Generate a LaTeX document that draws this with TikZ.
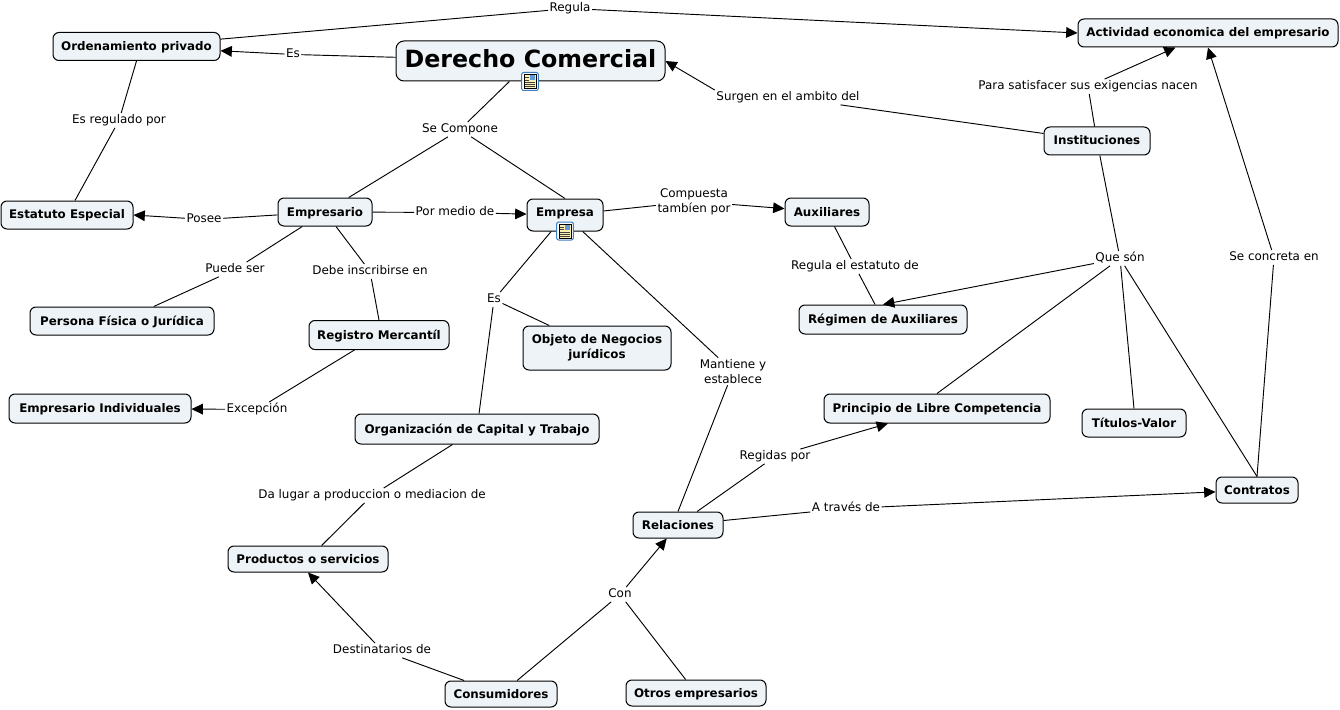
\documentclass[tikz,border=0pt]{standalone}
\usepackage{fontspec}
\setmainfont{DejaVu Sans}
\usetikzlibrary{arrows.meta}
\definecolor{ink}{HTML}{000000}
\definecolor{conceptfill}{HTML}{EDF3F6}
\definecolor{iconfill}{HTML}{FBF0B0}
\definecolor{iconline}{HTML}{3C7FC8}
\newcommand{\px}{.75pt}
\tikzset{
 concept/.style={draw=ink,fill=conceptfill,rounded corners=4.5pt,line width=.75pt,inner sep=0pt,align=center,text height=7.5pt,text depth=1.5pt,font=\fontsize{8.9}{11.4}\selectfont\bfseries,minimum height=28*\px},
 phrase/.style={inner xsep=1pt,inner ysep=1pt,yshift=-1.1pt,align=center,text height=6.8pt,text depth=1.9pt,font=\fontsize{8.95}{11.3}\selectfont,text=ink},
 twolines/.style={text height=,text depth=},
 link/.style={draw=ink,line width=.7pt},
 flow/.style={link,-{Triangle[length=8.5pt,width=8pt]}},
 icon/.style={draw=iconline,fill=white,rounded corners=1.5pt,line width=.75pt,minimum width=12.5pt,minimum height=13.5pt,inner sep=0pt},
}
\begin{document}
\begin{tikzpicture}[x=.75pt,y=-.75pt]
\useasboundingbox (0,0) rectangle (1340,710);

% concepts
\node[concept,minimum width=269*\px,minimum height=40*\px,rounded corners=6pt,text height=13.5pt,text depth=3pt,font=\fontsize{17.8}{22}\selectfont\bfseries] (derecho) at (530.5,61) {Derecho Comercial};
\node[concept,minimum width=167*\px] (ordenamiento) at (136.5,46.5) {Ordenamiento privado};
\node[concept,minimum width=260*\px] (actividad) at (1208,33) {Actividad economica del empresario};
\node[concept,minimum width=132*\px] (estatuto) at (67,215) {Estatuto Especial};
\node[concept,minimum width=94*\px] (empresario) at (325,212) {Empresario};
\node[concept,minimum width=76*\px,minimum height=32*\px,text depth=5pt] (empresa) at (565,215) {Empresa};
\node[concept,minimum width=84*\px] (auxiliares) at (827,212) {Auxiliares};
\node[concept,minimum width=106*\px] (instituciones) at (1097,141) {Instituciones};
\node[concept,minimum width=168*\px,minimum height=29*\px] (regimen) at (883,319.5) {Régimen de Auxiliares};
\node[concept,minimum width=184*\px] (persona) at (122,321) {Persona Física o Jurídica};
\node[concept,minimum width=140*\px,minimum height=29*\px] (registro) at (379,335) {Registro Mercantíl};
\node[concept,twolines,minimum width=148*\px,minimum height=44*\px] (objeto) at (597,348) {Objeto de Negocios\\[-.2pt]jurídicos};
\node[concept,minimum width=182*\px,minimum height=29*\px] (individuales) at (100,408.5) {Empresario Individuales};
\node[concept,minimum width=244*\px,minimum height=30*\px] (organizacion) at (477,429) {Organización de Capital y Trabajo};
\node[concept,minimum width=226*\px,minimum height=29*\px] (principio) at (937,408.5) {Principio de Libre Competencia};
\node[concept,minimum width=104*\px] (titulos) at (1134,423) {Títulos-Valor};
\node[concept,minimum width=82*\px,minimum height=26*\px] (contratos) at (1257,490) {Contratos};
\node[concept,minimum width=90*\px,minimum height=26*\px] (relaciones) at (678,525) {Relaciones};
\node[concept,minimum width=160*\px,minimum height=26*\px] (productos) at (308,559) {Productos o servicios};
\node[concept,minimum width=112*\px,minimum height=26*\px] (consumidores) at (501,694) {Consumidores};
\node[concept,minimum width=140*\px,minimum height=26*\px] (otros) at (696,693) {Otros empresarios};

% linking phrases
\node[phrase] (regula) at (570,7) {Regula};
\node[phrase] (es1) at (293,53) {Es};
\node[phrase] (compone) at (460,128) {Se Compone};
\node[phrase] (surgen) at (788,96) {Surgen en el ambito del};
\node[phrase] (regulado) at (119,119) {Es regulado por};
\node[phrase] (satisfacer) at (1088,85) {Para satisfacer sus exigencias nacen};
\node[phrase] (posee) at (204,218) {Posee};
\node[phrase] (medio) at (455,211) {Por medio de};
\node[phrase,twolines] (compuesta) at (694,200) {Compuesta\\tambíen por};
\node[phrase] (puede) at (235,268) {Puede ser};
\node[phrase] (debe) at (370,270) {Debe inscribirse en};
\node[phrase] (es2) at (494,298) {Es};
\node[phrase] (estatutode) at (855,265) {Regula el estatuto de};
\node[phrase] (queson) at (1120,257) {Que són};
\node[phrase] (concreta) at (1274,256) {Se concreta en};
\node[phrase,twolines] (mantiene) at (733,370) {Mantiene y\\establece};
\node[phrase] (excepcion) at (257,408) {Excepción};
\node[phrase] (lugar) at (372,494) {Da lugar a produccion o mediacion de};
\node[phrase] (regidas) at (775,455) {Regidas por};
\node[phrase] (traves) at (846,507) {A través de};
\node[phrase] (con) at (620,593) {Con};
\node[phrase] (destinatarios) at (382,649) {Destinatarios de};

% connectors
\draw[link] (ordenamiento) -- (regula);
\draw[flow] (regula) -- (actividad.west);
\draw[link] (derecho) -- (es1);
\draw[flow] (es1) -- (ordenamiento);
\draw[link] (derecho) -- (compone);
\draw[link] (compone) -- (empresario);
\draw[link] (compone) -- (empresa.north);
\draw[link] (instituciones) -- (surgen);
\draw[flow] (surgen.north west) -- (derecho.east);
\draw[link] (instituciones) -- (satisfacer);
\draw[flow] (satisfacer) -- (actividad);
\draw[link] (ordenamiento.south) -- (regulado);
\draw[link] (regulado) -- (estatuto);
\draw[link] (empresario) -- (posee);
\draw[flow] (posee) -- (estatuto.east);
\draw[link] (empresario) -- (medio);
\draw[flow] (medio) -- (empresa);
\draw[link] (empresa) -- (compuesta);
\draw[flow] (compuesta) -- (auxiliares);
\draw[link] (auxiliares) -- (estatutode);
\draw[link] (estatutode) -- (regimen);
\draw[link] (empresario) -- (puede);
\draw[link] (puede) -- (persona);
\draw[link] (empresario) -- (debe);
\draw[link] (debe) -- (registro.north);
\draw[link] (registro) -- (excepcion);
\draw[flow] (excepcion) -- (individuales);
\draw[link] (empresa) -- (es2);
\draw[link] (es2) -- (objeto);
\draw[link] (es2) -- (organizacion);
\draw[link] (empresa) -- (mantiene);
\draw[link] (mantiene) -- (relaciones.north);
\draw[link] (organizacion) -- (lugar);
\draw[link] (lugar) -- (productos);
\draw[link] (relaciones) -- (regidas);
\draw[flow] (regidas) -- (principio.197);
\draw[link] (relaciones) -- (traves);
\draw[flow] (traves) -- (contratos);
\draw[link] (consumidores) -- (destinatarios);
\draw[flow] (destinatarios) -- (productos.south);
\draw[link] (consumidores) -- (con);
\draw[link] (otros) -- (con);
\draw[flow] (con) -- (relaciones);
\draw[link] (instituciones) -- (queson);
\draw[flow] (queson) -- (regimen.north);
\draw[link] (queson) -- (principio.north);
\draw[link] (queson) -- (titulos.north);
\draw[link] (queson) -- (contratos.north);
\draw[link] (contratos.north) -- (concreta);
\draw[flow] (concreta) -- (actividad.south);

% document icons
\node[icon] (iconderecho) at (530,81.5) {};
\node[icon] (iconempresa) at (565,231) {};
\foreach \n in {iconderecho,iconempresa} {
  \filldraw[fill=iconfill,draw=black,line width=.4pt] (\n.center) +(-4.5pt,-5.2pt) rectangle +(4.5pt,5.2pt);
  \fill[iconline!80] (\n.center) +(.2pt,4.6pt) rectangle +(3.9pt,.8pt);
  \foreach \k in {3,1.2} \draw[black!75,line width=.3pt] (\n.center) +(-3.6pt,\k pt) -- +(-.5pt,\k pt);
  \foreach \k in {-.6,-2.2,-3.8} \draw[black!75,line width=.3pt] (\n.center) +(-3.6pt,\k pt) -- +(3.6pt,\k pt);
}
\end{tikzpicture}
\end{document}
